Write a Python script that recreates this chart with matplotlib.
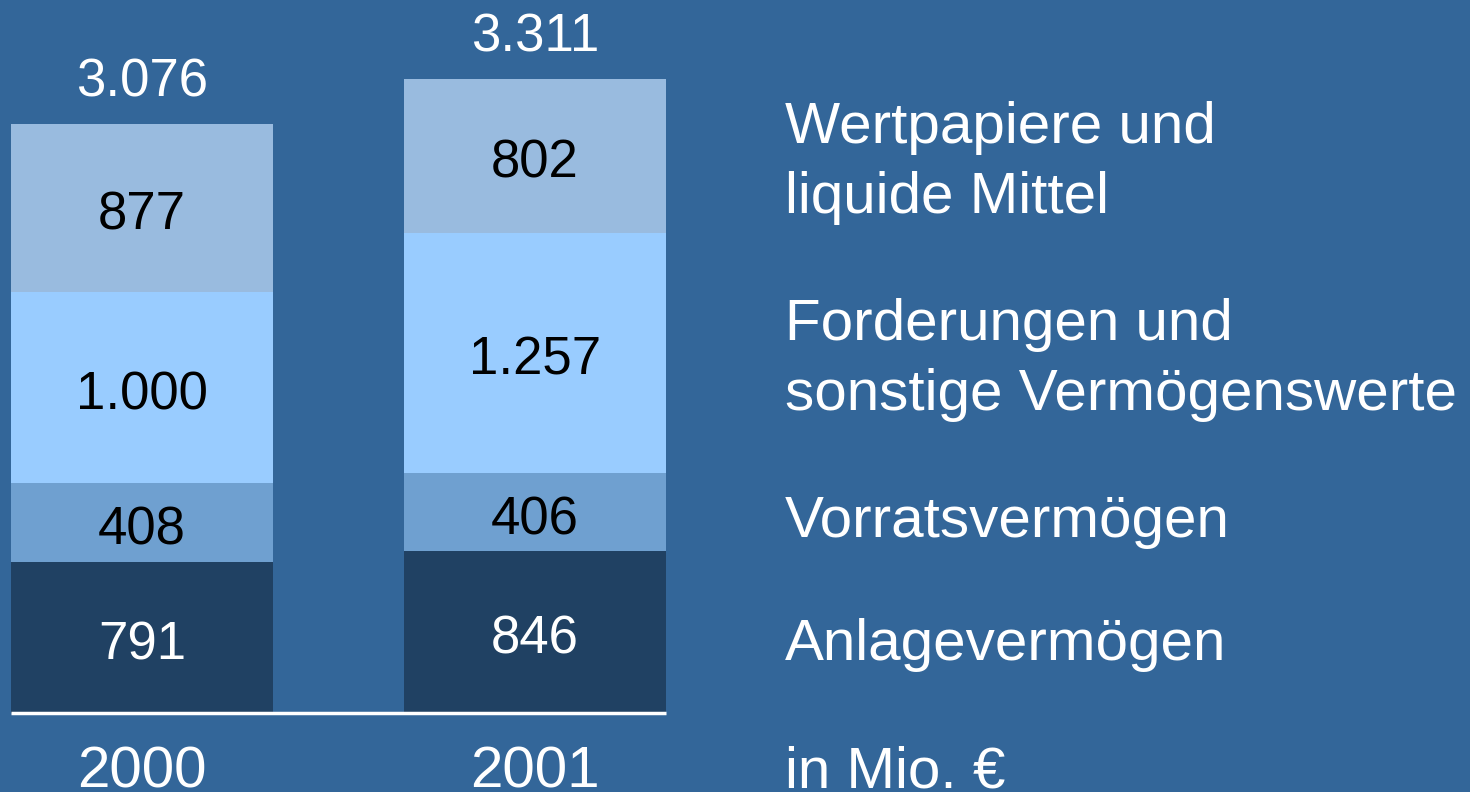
import matplotlib
matplotlib.use("Agg")
import matplotlib.pyplot as plt
import matplotlib.transforms as mtransforms
import numpy as np

plt.rcParams['font.family'] = ['Liberation Sans', 'DejaVu Sans']

years = ["2000", "2001"]
anlage = [791, 846]
vorrat = [408, 406]
forderungen = [1000, 1257]
wertpapiere = [877, 802]
totals = ["3.076", "3.311"]
series_labels = [
    ["Wertpapiere und", "liquide Mittel"],
    ["Forderungen und", "sonstige Vermögenswerte"],
    ["Vorratsvermögen"],
    ["Anlagevermögen"],
]
unit_label = "in Mio. €"

def fmt(v):
    return f"{v:,}".replace(",", ".")

BG = "#336699"
colors = ["#204163", "#6fa0d0", "#99ccff", "#99bbdf"]
text_colors = ["white", "black", "black", "black"]

W, H, DPI = 1470, 792, 100
fig = plt.figure(figsize=(W / DPI, H / DPI), dpi=DPI, facecolor=BG)

# axes: bottom at baseline (79 px from bottom), full width
base_px = 79
ax = fig.add_axes([0, base_px / H, 1, 1 - base_px / H])
ax.set_facecolor(BG)
for s in ax.spines.values():
    s.set_visible(False)
ax.set_xticks([])
ax.set_yticks([])

spacing = 393.0
xc0 = 142.0
ax.set_xlim(-xc0 / spacing, (W - xc0) / spacing)
px_per_unit = 0.1915
ax.set_ylim(0, (H - base_px) / px_per_unit)

x = np.arange(len(years))
width = 262 / spacing
stack = [anlage, vorrat, forderungen, wertpapiere]
bottom = np.zeros(len(years))
for vals, col, tcol in zip(stack, colors, text_colors):
    vals = np.array(vals, dtype=float)
    ax.bar(x, vals, width, bottom=bottom, color=col, edgecolor="none", zorder=2)
    for xi, b, v in zip(x, bottom, vals):
        off = mtransforms.offset_copy(ax.transData, fig=fig, x=0, y=-22 * 72 / DPI, units="points")
        ax.text(xi, b + v / 2, fmt(int(v)), ha="center", va="baseline",
                fontsize=38, color=tcol, transform=off, zorder=3)
    bottom = bottom + vals

# totals
for xi, top, t in zip(x, bottom, totals):
    off = mtransforms.offset_copy(ax.transData, fig=fig, x=0, y=27 * 72 / DPI, units="points")
    ax.text(xi, top, t, ha="center", va="baseline", fontsize=38, color="white", transform=off)

# baseline
ax.plot([x[0] - width / 2, x[-1] + width / 2], [0, 0], color="white", lw=2.5,
        solid_capstyle="butt", zorder=4, clip_on=False)

# year labels
for xi, yl in zip(x, years):
    ax.text(xi, -74 / (H - base_px), yl, ha="center", va="baseline", fontsize=42,
            color="white", transform=ax.get_xaxis_transform(), clip_on=False)

# legend-like labels
label_baselines = [[143, 213], [340, 410], [537], [660]]
for lines, bls in zip(series_labels, label_baselines):
    for line, bl in zip(lines, bls):
        fig.text(785 / W, 1 - bl / H, line, ha="left", va="baseline", fontsize=42, color="white")
fig.text(785 / W, 1 - 787 / H, unit_label, ha="left", va="baseline", fontsize=42, color="white")

fig.savefig("out.png", dpi=DPI, facecolor=BG)
